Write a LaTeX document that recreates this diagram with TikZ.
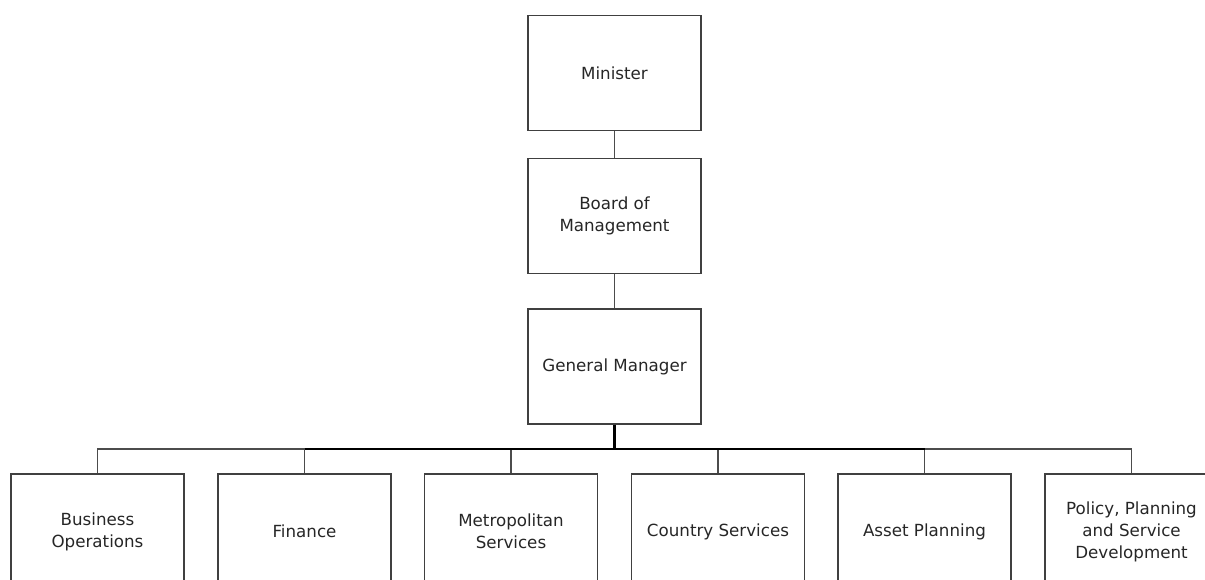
\documentclass[tikz,border=0pt]{standalone}
\usepackage{fontspec}
\setmainfont{DejaVu Sans}
\begin{document}
\begin{tikzpicture}[x=1pt,y=-1pt,
  orgbox/.style={draw=black!75, line width=1.2pt, minimum width=173pt, minimum height=115pt,
     align=center, text=black!85, font=\fontsize{16.7}{22}\selectfont, inner sep=0pt},
  thinline/.style={draw=black!70, line width=1.2pt},
  thickline/.style={draw=black, line width=2.2pt}]
\useasboundingbox (0,0) rectangle (1205,579);
\clip (0,0) rectangle (1205,579);
\node[orgbox] (min) at (614.5,73) {Minister};
\node[orgbox] (bom) at (614.5,216) {Board of\\Management};
\node[orgbox] (gm) at (614.5,366.5) {General Manager};
\node[orgbox] (bo) at (97.5,531.5) {Business\\Operations};
\node[orgbox] (fin) at (304.5,531.5) {Finance};
\node[orgbox] (met) at (511,531.5) {Metropolitan\\Services};
\node[orgbox] (cs) at (718,531.5) {Country Services};
\node[orgbox] (ap) at (924.5,531.5) {Asset Planning};
\node[orgbox] (pp) at (1131.5,531.5) {Policy, Planning\\and Service\\Development};
\coordinate (bus) at (614.5,449);
\draw[thinline] (min.south) -- (bom.north);
\draw[thinline] (bom.south) -- (gm.north);
\draw[thinline] (bo.north) |- (bus) -| (pp.north);
\draw[thinline] (fin.north) -- (fin.north |- bus);
\draw[thinline] (met.north) -- (met.north |- bus);
\draw[thinline] (cs.north) -- (cs.north |- bus);
\draw[thinline] (ap.north) -- (ap.north |- bus);
\draw[thickline] (fin.north |- bus) -- (ap.north |- bus);
\draw[thickline] (gm.south) -- (bus);
\end{tikzpicture}
\end{document}
